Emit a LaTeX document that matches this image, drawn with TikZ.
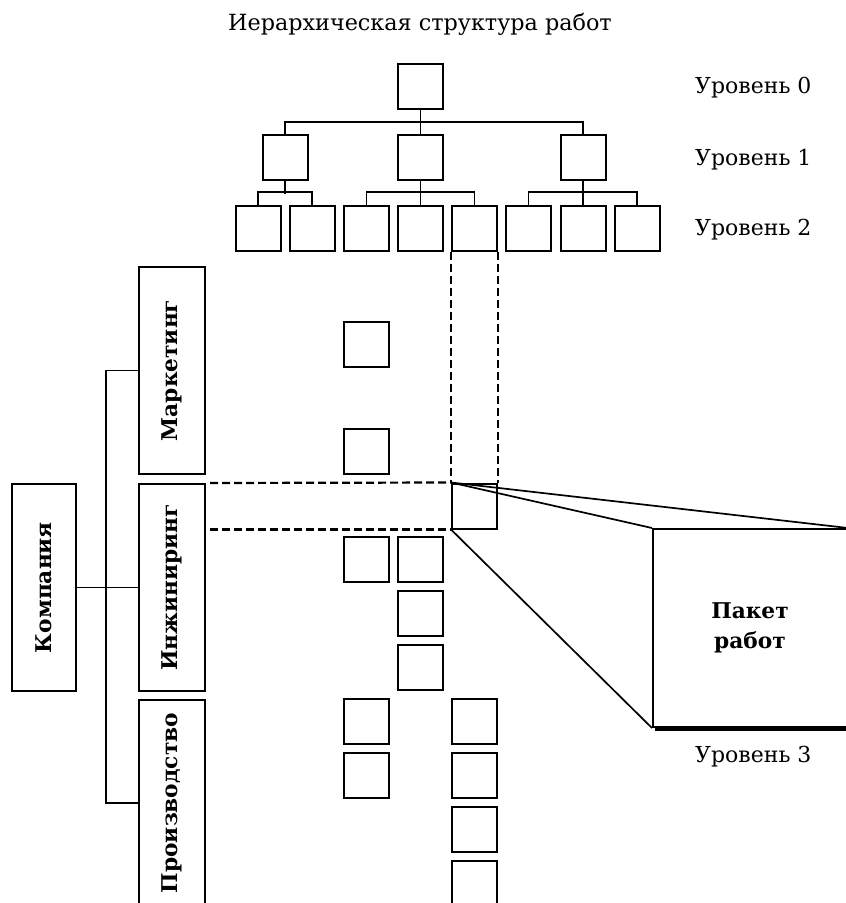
\documentclass[tikz,border=0pt]{standalone}
\usepackage{fontspec}
\setmainfont{DejaVu Serif}
\begin{document}
\begin{tikzpicture}[x=1pt,y=-1pt,
  box/.style={draw, line width=2pt, minimum width=45pt, minimum height=45pt, inner sep=0pt},
  dept/.style={draw, line width=2pt, minimum width=66pt, minimum height=207pt, inner sep=0pt, font=\bfseries\fontsize{21.7}{26}\selectfont},
  conn/.style={line width=1.7pt},
  dline/.style={line width=2.2pt, dash pattern=on 8pt off 4pt},
  lbl/.style={font=\fontsize{22}{26}\selectfont, anchor=west, inner sep=0pt},
  ttl/.style={font=\fontsize{22.3}{26}\selectfont, inner sep=0pt}
]
\useasboundingbox (0,0) rectangle (846,903);
\clip (0,0) rectangle (846,903);
% title
\node[ttl] (title) at (420,24) {Иерархическая структура работ};
% tree
\node[box] (l0) at (420.5,86.5) {};
\node[box] (l1a) at (285,157) {};
\node[box] (l1b) at (420.5,157) {};
\node[box] (l1c) at (583,157) {};
\foreach \n/\x in {a/258,b/312,c/366.5,d/420.5,e/474.5,f/528.5,g/583,h/637}
  \node[box] (l2\n) at (\x,228) {};
\draw[conn] (l0.south) -- (l1b.north);
\draw[conn] (l1a.north) -- ++(0,-11.5) -| (l1c.north);
\draw[conn] (l1a.south) -- ++(0,13.5);
\draw[conn] (l2a.north) -- ++(0,-12.5) -| (l2b.north);
\draw[conn] (l1b.south) -- (l2d.north);
\draw[conn] (l2c.north) -- ++(0,-12.5) -| (l2e.north);
\draw[conn] (l1c.south) -- (l2g.north);
\draw[conn] (l2f.north) -- ++(0,-12.5) -| (l2h.north);
% level labels
\node[lbl] (lv0) at (695,88) {Уровень 0};
\node[lbl] (lv1) at (695,160) {Уровень 1};
\node[lbl] (lv2) at (695,230) {Уровень 2};
\node[lbl] (lv3) at (695,757) {Уровень 3};
% departments
\node[dept, minimum width=64pt] (comp) at (44,587.5) {\rotatebox{90}{Компания}};
\node[dept] (mark) at (172,370.5) {\rotatebox{90}{Маркетинг}};
\node[dept] (eng) at (172,587.5) {\rotatebox{90}{Инжиниринг}};
\node[dept] (prod) at (172,803) {\rotatebox{90}{Производство}};
\draw[conn] (mark.west) -- ++(-32,0) |- (prod.west);
\draw[conn] (comp.east) -- (eng.west);
% small boxes
\node[box] (m1) at (366.5,344) {};
\node[box] (m2) at (366.5,451.5) {};
\node[box] (e1) at (366.5,559.5) {};
\node[box] (e2) at (420.5,559.5) {};
\node[box] (e3) at (420.5,613.5) {};
\node[box] (e4) at (420.5,667.5) {};
\node[box] (p1) at (366.5,721) {};
\node[box] (p2) at (366.5,775.5) {};
\node[box] (p3) at (474.5,721) {};
\node[box] (p4) at (474.5,775.5) {};
\node[box] (p5) at (474.5,829.5) {};
\node[box] (p6) at (474.5,883.5) {};
\node[box] (wp) at (474.5,506) {};
% dashed projections
\draw[dline] (l2e.south west) -- (wp.north west);
\draw[dline] (l2e.south east) -- (wp.north east);
\draw[dline, shorten <=4pt] (eng.north east) -- (wp.north west);
\draw[dline, shorten <=4pt] (eng.east |- wp.south west) -- (wp.south west);
% work package
\node[draw, line width=2pt, minimum width=194pt, minimum height=198pt, inner sep=0pt,
      align=center, font=\bfseries\fontsize{21.7}{30}\selectfont] (pkg) at (750,628) {Пакет\\работ};
\draw[conn] (wp.north west) -- (pkg.north west);
\draw[conn] (wp.north west) -- (pkg.north east);
\draw[conn] (wp.south west) -- (pkg.south west);
\draw[line width=4.5pt] ([xshift=3pt,yshift=-1pt]pkg.south west) -- ([yshift=-1pt]pkg.south east);
\end{tikzpicture}
\end{document}
